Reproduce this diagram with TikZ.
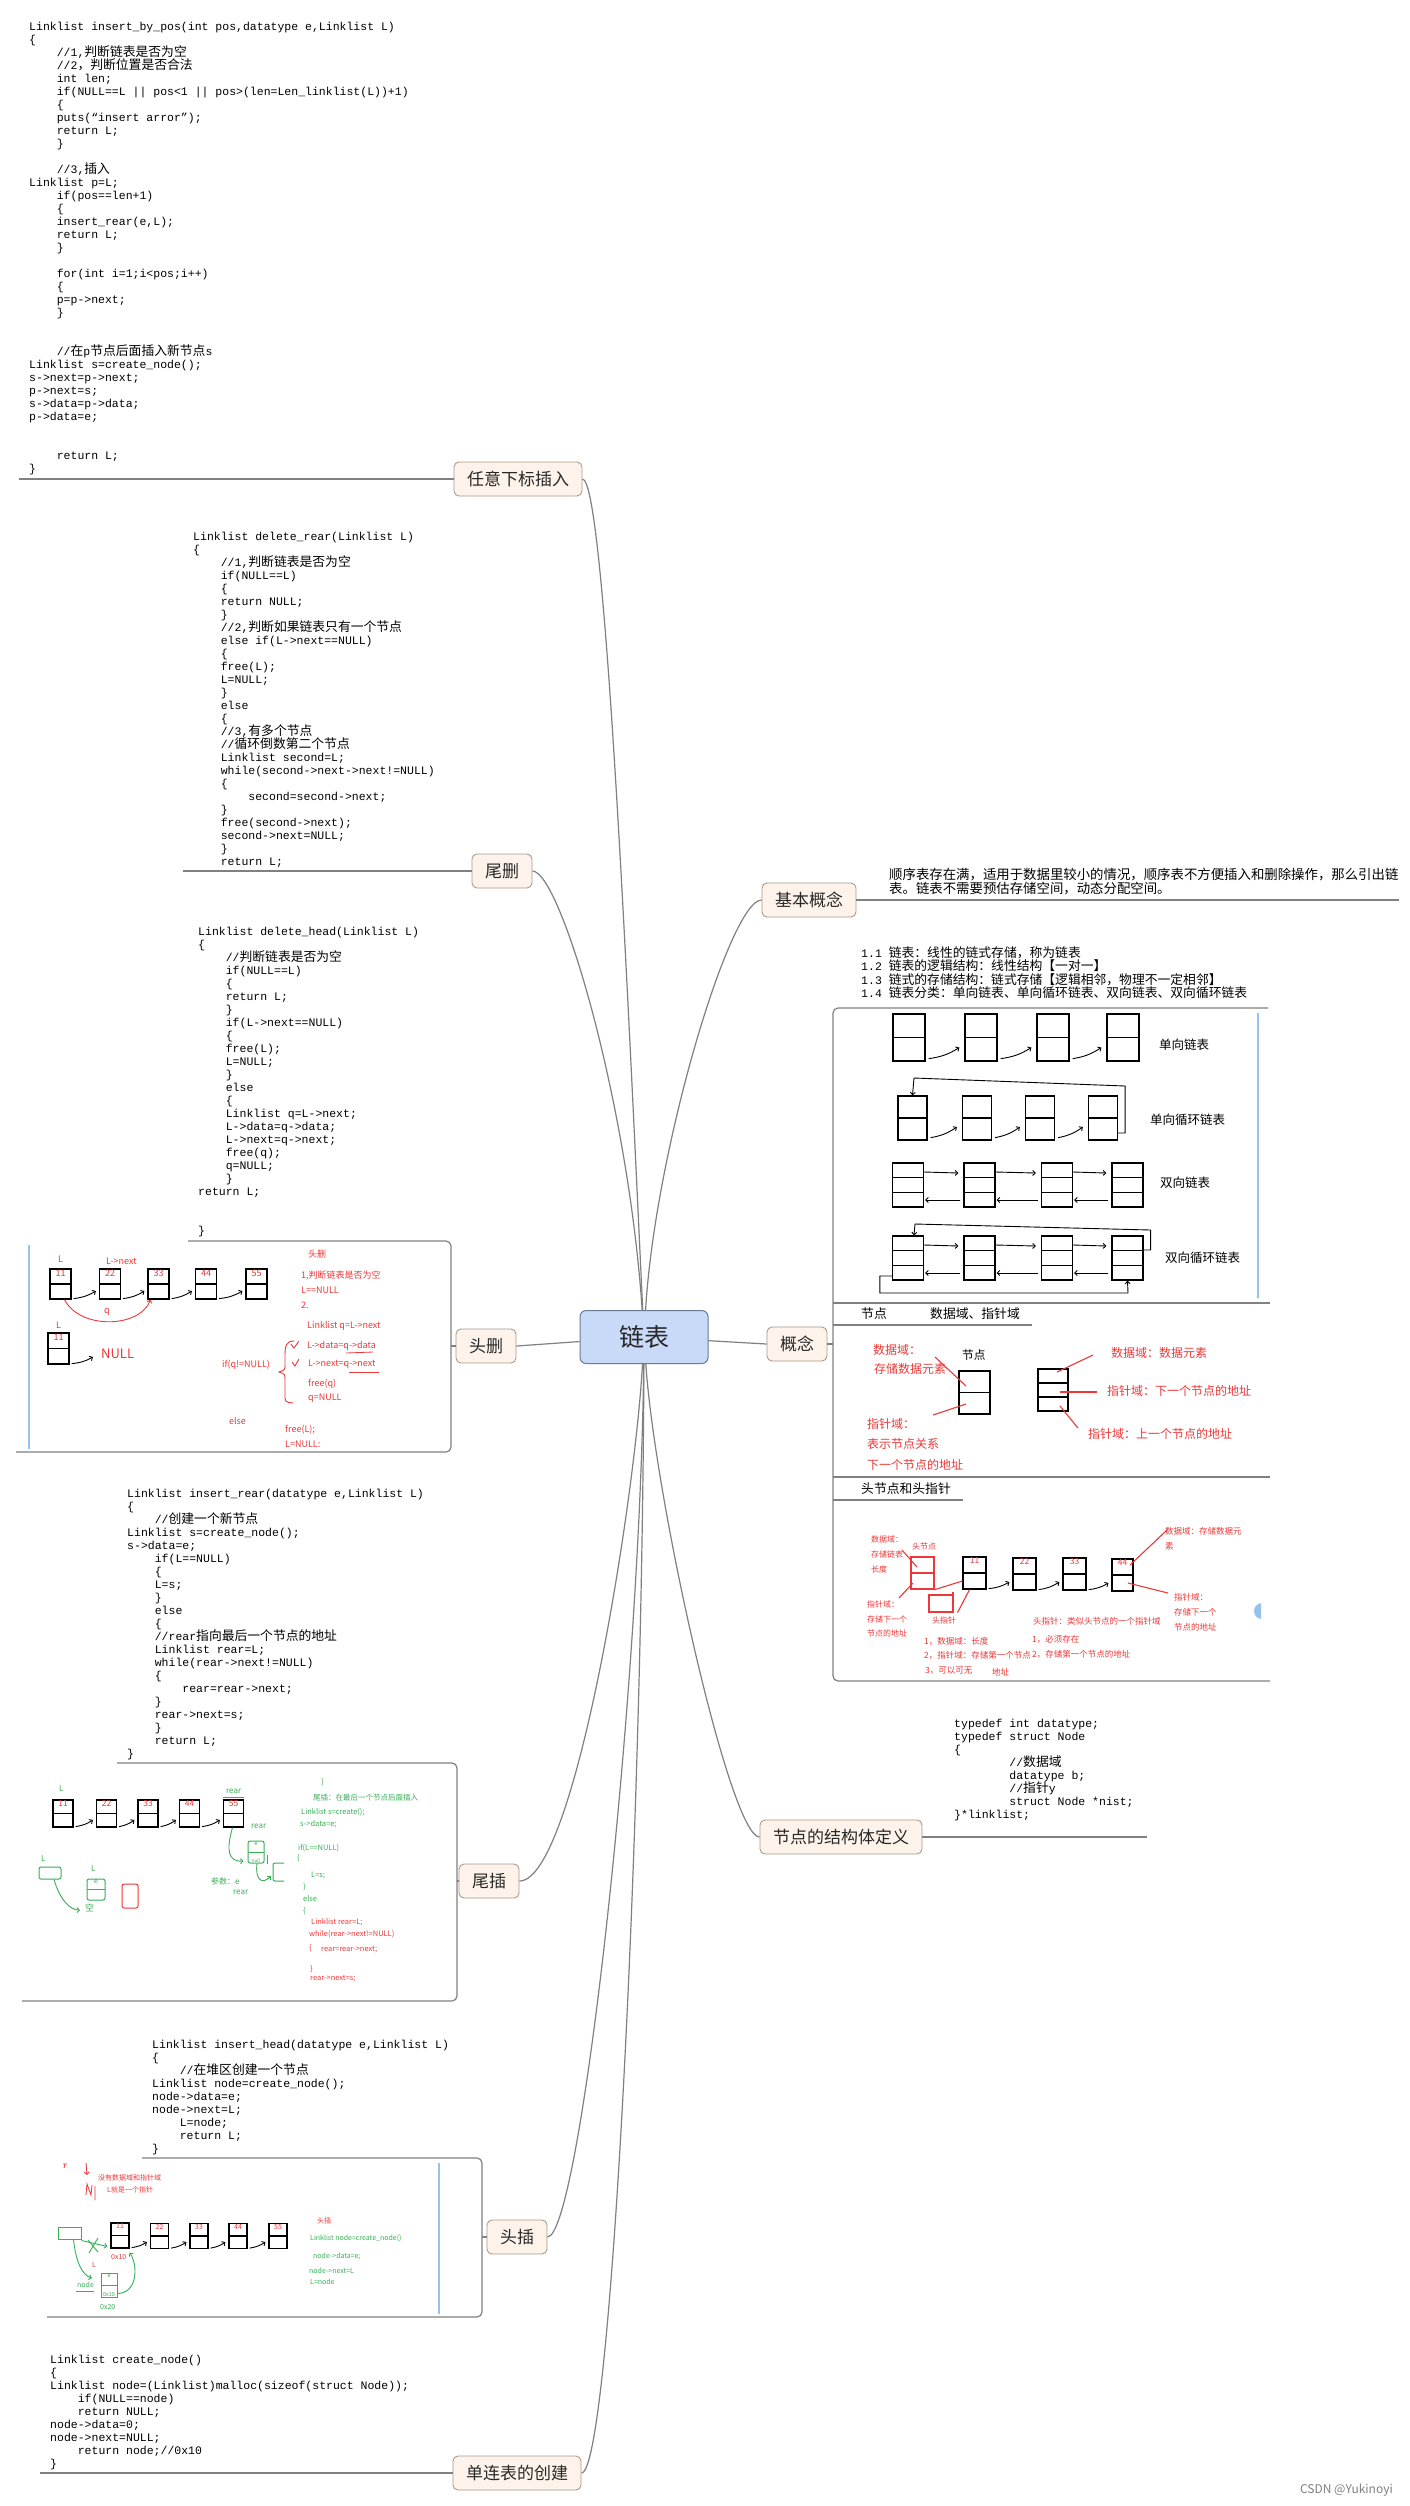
\documentclass[tikz,border=0pt]{standalone}
\usepackage{fontspec}
\newfontfamily\codefont{Liberation Mono}
\newfontfamily\zhfont{Noto Sans CJK SC}
\usetikzlibrary{arrows.meta,calc}
\definecolor{hred}{RGB}{236,56,56}
\definecolor{hgreen}{RGB}{56,176,86}
\definecolor{mline}{RGB}{128,128,128}
\definecolor{tfill}{RGB}{253,243,234}
\definecolor{tdraw}{RGB}{168,154,140}
\definecolor{cfill}{RGB}{200,218,248}
\definecolor{cdraw}{RGB}{105,122,150}
\definecolor{lblue}{RGB}{150,195,235}
\definecolor{txt}{RGB}{40,40,40}
\newcommand\zh[1]{{\zhfont\fontsize{12.8pt}{13pt}\selectfont #1}}
\newcommand\IN{\hspace*{27.6pt}}
\newcommand\fstrut{\rule{0pt}{12pt}}
\newcounter{nn}
\newcommand\TX[3]{\stepcounter{nn}\node[#1] (n\arabic{nn}) at (#2) {#3};}
\tikzset{
 code/.style={font={\codefont\fontsize{11.5pt}{13pt}\selectfont\lineskiplimit=-100pt\lineskip=0pt}, align=left, inner sep=0pt, anchor=north west, text=black},
 mm/.style={draw=mline, line width=1.2pt},
 topic/.style={draw=tdraw, fill=tfill, rounded corners=5pt, line width=0.9pt, minimum height=34pt, inner xsep=13pt, inner ysep=0pt, text=txt, font={\zhfont\fontsize{17pt}{17pt}\selectfont}},
 central/.style={draw=cdraw, fill=cfill, rounded corners=6pt, line width=1pt, minimum width=128pt, minimum height=53pt, inner sep=0pt, text=txt, font={\zhfont\fontsize{25pt}{25pt}\selectfont}},
 rtxt/.style={text=hred, inner sep=0pt, anchor=west, font={\zhfont\fontsize{#1}{#1}\selectfont}},
 gtxt/.style={text=hgreen, inner sep=0pt, anchor=west, font={\zhfont\fontsize{#1}{#1}\selectfont}},
 btxt/.style={text=black, inner sep=0pt, anchor=west, font={\zhfont\fontsize{#1}{#1}\selectfont}},
 harr/.style={draw=black, line width=0.9pt, -{Straight Barb[length=2.5pt,width=5pt]}},
 rarr/.style={draw=hred, line width=0.9pt, -{Straight Barb[length=2.5pt,width=5pt]}},
 garr/.style={draw=hgreen, line width=0.9pt, -{Straight Barb[length=2.5pt,width=5pt]}},
 rline/.style={draw=hred, line width=1.1pt},
 cell2/.style n args={3}{draw, line width=#3, inner sep=0pt, minimum width=#1, minimum height=#2, path picture={\draw[line width=#3] (path picture bounding box.west) -- (path picture bounding box.east);}},
 cell3/.style n args={3}{draw, line width=#3, inner sep=0pt, minimum width=#1, minimum height=#2, path picture={\draw[line width=#3] ($(path picture bounding box.north west)!0.333!(path picture bounding box.south west)$) -- ($(path picture bounding box.north east)!0.333!(path picture bounding box.south east)$) ($(path picture bounding box.north west)!0.667!(path picture bounding box.south west)$) -- ($(path picture bounding box.north east)!0.667!(path picture bounding box.south east)$);}},
 num/.style={anchor=north, text=hred, inner sep=1pt, font={\zhfont\fontsize{#1}{#1}\selectfont}},
 gnum/.style={anchor=north, text=hgreen, inner sep=1pt, font={\zhfont\fontsize{#1}{#1}\selectfont}},
 gbox/.style={draw=hgreen, line width=1pt, rounded corners=2pt, inner sep=0pt},
}
\begin{document}
\begin{tikzpicture}[x=1pt,y=-1pt]
\useasboundingbox (0,0) rectangle (1409,2506);
\fill[white] (0,0) rectangle (1409,2506);

% ---------------- central and topics ----------------
\node[central] (c) at (644,1337) {链表};
\node[topic] (t1) at (518,479) {任意下标插入};
\node[topic] (t2) at (502,871) {尾删};
\node[topic] (t3) at (486,1346) {头删};
\node[topic] (t4) at (489,1881) {尾插};
\node[topic] (t5) at (517,2237) {头插};
\node[topic] (t6) at (517,2473) {单连表的创建};
\node[topic] (t7) at (809,900) {基本概念};
\node[topic] (t8) at (797,1344) {概念};
\node[topic] (t9) at (841,1837) {节点的结构体定义};

\draw[mm] (t1.east) .. controls (605,479) and (628,1000) .. (c);
\draw[mm] (t2.east) .. controls (560,871) and (628,1100) .. (c);
\draw[mm] (t3.east) -- (c);
\draw[mm] (t4.east) .. controls (575,1881) and (635,1500) .. (c);
\draw[mm] (t5.east) .. controls (580,2237) and (640,1700) .. (c);
\draw[mm] (t6.east) .. controls (610,2473) and (642,1850) .. (c);
\draw[mm] (t7.west) .. controls (730,900) and (655,1150) .. (c);
\draw[mm] (t8.west) -- (c);
\draw[mm] (t9.west) .. controls (730,1837) and (655,1500) .. (c);

% underlines and frames
\coordinate (u1) at (19,479);
\draw[mm] (u1) -- (t1.west);
\coordinate (u2) at (183,871);
\draw[mm] (u2) -- (t2.west);
\draw[mm, rounded corners=5pt] (188,1241) -- (451,1241) -- (451,1452) -- (16,1452);
\coordinate (f3) at (451,1346);
\draw[mm] (f3) -- (t3.west);
\draw[draw=lblue, line width=1.2pt] (29,1245) -- (29,1449);
\draw[mm, rounded corners=5pt] (117,1763) -- (457,1763) -- (457,2001) -- (22,2001);
\coordinate (f4) at (457,1881);
\draw[mm] (f4) -- (t4.west);
\draw[mm, rounded corners=5pt] (142,2158) -- (482,2158) -- (482,2317) -- (47,2317);
\coordinate (f5) at (482,2237);
\draw[mm] (f5) -- (t5.west);
\draw[draw=lblue, line width=1.2pt] (439,2163) -- (439,2314);
\coordinate (u6) at (40,2473);
\draw[mm] (u6) -- (t6.west);
\coordinate (u7) at (1399,900);
\draw[mm] (t7.east) -- (u7);
\draw[mm, rounded corners=5pt] (1268,1008) -- (833,1008) -- (833,1681) -- (1270,1681);
\draw[mm] (833,1303) -- (1270,1303);
\draw[mm] (833,1477) -- (1270,1477);
\draw[mm] (833,1325) -- (1032,1325);
\draw[mm] (833,1500) -- (963,1500);
\coordinate (f8) at (833,1344);
\draw[mm] (t8.east) -- (f8);
\draw[draw=lblue, line width=1.2pt] (1258,1013) -- (1258,1297);
\fill[lblue] (1258,1297) circle (1.5);
\coordinate (u9) at (1147,1837);
\draw[mm] (t9.east) -- (u9);

% ---------------- code blocks ----------------
\node[code] (k1) at (29,18) {\fstrut Linklist insert\_by\_pos(int pos,datatype e,Linklist L)\\
\{\\
\IN//1,\zh{判断链表是否为空}\\
\IN//2\zh{，判断位置是否合法}\\
\IN int len;\\
\IN if(NULL==L || pos<1 || pos>(len=Len\_linklist(L))+1)\\
\IN\{\\
\IN puts(“insert arror”);\\
\IN return L;\\
\IN\}\\[13pt]
\IN//3,\zh{插入}\\
Linklist p=L;\\
\IN if(pos==len+1)\\
\IN\{\\
\IN insert\_rear(e,L);\\
\IN return L;\\
\IN\}\\[13pt]
\IN for(int i=1;i<pos;i++)\\
\IN\{\\
\IN p=p->next;\\
\IN\}\\[26pt]
\IN//\zh{在}p\zh{节点后面插入新节点}s\\
Linklist s=create\_node();\\
s->next=p->next;\\
p->next=s;\\
s->data=p->data;\\
p->data=e;\\[26pt]
\IN return L;\\
\}};

\node[code] (k2) at (193,528) {\fstrut Linklist delete\_rear(Linklist L)\\
\{\\
\IN//1,\zh{判断链表是否为空}\\
\IN if(NULL==L)\\
\IN\{\\
\IN return NULL;\\
\IN\}\\
\IN//2,\zh{判断如果链表只有一个节点}\\
\IN else if(L->next==NULL)\\
\IN\{\\
\IN free(L);\\
\IN L=NULL;\\
\IN\}\\
\IN else\\
\IN\{\\
\IN//3,\zh{有多个节点}\\
\IN//\zh{循环倒数第二个节点}\\
\IN Linklist second=L;\\
\IN while(second->next->next!=NULL)\\
\IN\{\\
\IN\IN second=second->next;\\
\IN\}\\
\IN free(second->next);\\
\IN second->next=NULL;\\
\IN\}\\
\IN return L;};

\node[code] (k3) at (198,923) {\fstrut Linklist delete\_head(Linklist L)\\
\{\\
\IN//\zh{判断链表是否为空}\\
\IN if(NULL==L)\\
\IN\{\\
\IN return L;\\
\IN\}\\
\IN if(L->next==NULL)\\
\IN\{\\
\IN free(L);\\
\IN L=NULL;\\
\IN\}\\
\IN else\\
\IN\{\\
\IN Linklist q=L->next;\\
\IN L->data=q->data;\\
\IN L->next=q->next;\\
\IN free(q);\\
\IN q=NULL;\\
\IN\}\\
return L;\\[26pt]
\}};

\node[code] (k4) at (127,1485) {\fstrut Linklist insert\_rear(datatype e,Linklist L)\\
\{\\
\IN//\zh{创建一个新节点}\\
Linklist s=create\_node();\\
s->data=e;\\
\IN if(L==NULL)\\
\IN\{\\
\IN L=s;\\
\IN\}\\
\IN else\\
\IN\{\\
\IN//rear\zh{指向最后一个节点的地址}\\
\IN Linklist rear=L;\\
\IN while(rear->next!=NULL)\\
\IN\{\\
\IN\IN rear=rear->next;\\
\IN\}\\
\IN rear->next=s;\\
\IN\}\\
\IN return L;\\
\}};

\node[code] (k5) at (152,2036) {\fstrut Linklist insert\_head(datatype e,Linklist L)\\
\{\\
\IN//\zh{在堆区创建一个节点}\\
Linklist node=create\_node();\\
node->data=e;\\
node->next=L;\\
\IN L=node;\\
\IN return L;\\
\}};

\node[code] (k6) at (50,2351) {\fstrut Linklist create\_node()\\
\{\\
Linklist node=(Linklist)malloc(sizeof(struct Node));\\
\IN if(NULL==node)\\
\IN return NULL;\\
node->data=0;\\
node->next=NULL;\\
\IN return node;//0x10\\
\}};

\node[code] (k7) at (954,1715) {\fstrut typedef int datatype;\\
typedef struct Node\\
\{\\
\IN\IN//\zh{数据域}\\
\IN\IN datatype b;\\
\IN\IN//\zh{指针}y\\
\IN\IN struct Node *nist;\\
\}*linklist;};

\node[code, font={\zhfont\fontsize{13.4pt}{14pt}\selectfont\lineskiplimit=-100pt\lineskip=0pt}] (k8) at (889,867) {\fstrut 顺序表存在满，适用于数据里较小的情况，顺序表不方便插入和删除操作，那么引出链\\表。链表不需要预估存储空间，动态分配空间。};

\node[code, font={\codefont\fontsize{11.5pt}{13.5pt}\selectfont\lineskiplimit=-100pt\lineskip=0pt}] (k9) at (861,945) {\fstrut 1.1 \zh{链表：线性的链式存储，称为链表}\\
1.2 \zh{链表的逻辑结构：线性结构【一对一】}\\
1.3 \zh{链式的存储结构：链式存储【逻辑相邻，物理不一定相邻】}\\
1.4 \zh{链表分类：单向链表、单向循环链表、双向链表、双向循环链表}};

% ---------------- head delete picture ----------------
\node[cell2={21pt}{30pt}{1.2pt}, label={[num=9]north:11}] (b1) at (60.5,1284) {};
\node[cell2={21pt}{30pt}{1.2pt}, label={[num=9]north:22}] (b2) at (110,1284) {};
\node[cell2={21pt}{30pt}{1.2pt}, label={[num=9]north:33}] (b3) at (158.5,1284) {};
\node[cell2={21pt}{30pt}{1.2pt}, label={[num=9]north:44}] (b4) at (206,1284) {};
\node[cell2={21pt}{30pt}{1.2pt}, label={[num=9]north:55}] (b5) at (256.5,1284) {};
\node[cell2={21pt}{31pt}{1.2pt}, label={[num=9]north:11}] (b6) at (58.5,1348.5) {};
\foreach \a/\b in {b1/b2,b2/b3,b3/b4,b4/b5}
  \draw[harr] ([xshift=2pt,yshift=1pt]\a.south east) to[bend right=12] ([xshift=-3pt,yshift=-7pt]\b.west);
\TX{rtxt=9}{58,1259}{L}
\TX{rtxt=9}{106,1261}{L->next}
\TX{rtxt=9}{104,1312}{q}
\TX{rtxt=9}{56,1325}{L}
\draw[rarr] ([xshift=4pt]b1.south) .. controls (80,1330) and (140,1328) .. ([xshift=-8pt]b3.south);
\coordinate (nl) at (93,1357);
\draw[harr] ([xshift=2pt,yshift=1pt]b6.south east) to[bend right=12] (nl);
\TX{rtxt=13}{101,1354}{NULL}
\TX{rtxt=9}{308,1254}{头删}
\TX{rtxt=9}{301,1276}{1,判断链表是否为空}
\TX{rtxt=9}{301,1290}{L==NULL}
\TX{rtxt=9}{301,1305}{2.}
\TX{rtxt=9}{307,1326}{Linklist q=L->next}
\TX{rtxt=9}{307,1346}{L->data=q->data}
\TX{rtxt=9}{308,1364}{L->next=q->next}
\TX{rtxt=9}{308,1384}{free(q)}
\TX{rtxt=9}{308,1398}{q=NULL}
\TX{rtxt=9}{222,1365}{if(q!=NULL)}
\TX{rtxt=9}{229,1421}{else}
\TX{rtxt=9}{285,1430}{free(L);}
\TX{rtxt=9}{285,1444}{L=NULL:}
\draw[hred, line width=0.9pt] (291,1344) -- (294,1348) -- (299,1341);
\draw[hred, line width=0.9pt] (292,1362) -- (295,1366) -- (299,1359);
\draw[hred, line width=0.8pt] (346,1353) -- (373,1352);
\draw[hred, line width=0.8pt] (349,1372) -- (379,1372);
\draw[hred, line width=0.9pt] (294,1341) .. controls (286,1341) and (285,1346) .. (285,1356) -- (285,1365) .. controls (285,1370) .. (279,1372) .. controls (285,1374) .. (285,1380) -- (285,1395) .. controls (285,1402) .. (293,1403);

% ---------------- tail insert picture ----------------
\node[cell2={20pt}{27pt}{1.2pt}, label={[num=8.5]north:11}] (c1) at (63,1813.5) {};
\node[cell2={20pt}{27pt}{1.2pt}, label={[num=8.5]north:22}] (c2) at (106.5,1813.5) {};
\node[cell2={20pt}{27pt}{1.2pt}, label={[num=8.5]north:33}] (c3) at (148,1813.5) {};
\node[cell2={20pt}{27pt}{1.2pt}, label={[num=8.5]north:44}] (c4) at (189.5,1813.5) {};
\node[cell2={20pt}{27pt}{1.2pt}, label={[num=8.5]north:55}] (c5) at (233.5,1813.5) {};
\foreach \a/\b in {c1/c2,c2/c3,c3/c4,c4/c5}
  \draw[harr] ([xshift=2pt,yshift=1pt]\a.south east) to[bend right=12] ([xshift=-3pt,yshift=-6.5pt]\b.west);
\TX{gtxt=8}{59,1789}{L}
\TX{gtxt=8}{226,1791}{rear}
\draw[hgreen, line width=0.8pt] (223,1797) -- (244,1797);
\TX{gtxt=8}{251,1826}{rear}
\node[cell2={16pt}{22pt}{1pt}, color=hgreen, rounded corners=2pt, label={[gnum=6]north:e}, label={[gnum=4.5, anchor=south]south:null}] (g1) at (256,1852) {};
\draw[hgreen, line width=0.9pt] (267,1855) -- (267,1864);
\draw[garr] ([xshift=-1pt]c5.south) .. controls (226,1850) and (228,1862) .. ([xshift=-4pt,yshift=-9pt]g1.west);
\draw[hgreen, line width=1pt, rounded corners=2pt] (284,1863) -- (273,1863) -- (273,1881) -- (284,1881);
\coordinate (g2p) at (271,1876);
\draw[garr] ([xshift=1pt]g1.south) .. controls (255,1880) and (262,1885) .. (g2p);
\TX{gtxt=8}{211,1881}{参数：e}
\TX{gtxt=8}{233,1892}{rear}
\TX{gtxt=8}{41,1859}{L}
\node[gbox, minimum width=22pt, minimum height=12pt] (g3) at (50,1873) {};
\coordinate (g3e) at (80,1910);
\draw[garr] ([xshift=4pt]g3.south) .. controls (60,1900) and (70,1910) .. (g3e);
\TX{gtxt=9}{85,1908}{空}
\TX{gtxt=8}{91,1869}{L}
\node[cell2={18pt}{21pt}{1pt}, color=hgreen, rounded corners=2pt, label={[gnum=7]north:e}] (g4) at (96,1889.5) {};
\node[draw=hred, line width=1pt, rounded corners=2pt, minimum width=16pt, minimum height=24pt, inner sep=0pt] (r1) at (130,1896) {};
\TX{gtxt=7.5}{321,1782}{\}}
\TX{gtxt=7.5}{313,1798}{尾插：在最后一个节点后面插入}
\TX{gtxt=7.5}{301,1812}{Linklist s=create();}
\TX{gtxt=7.5}{300,1824}{s->data=e;}
\TX{gtxt=7.5}{298,1848}{if(L==NULL)}
\TX{gtxt=7.5}{297,1858}{\{}
\TX{gtxt=7.5}{311,1875}{L=s;}
\TX{gtxt=7.5}{303,1887}{\}}
\TX{gtxt=7.5}{303,1899}{else}
\TX{gtxt=7.5}{303,1911}{\{}
\TX{rtxt=7.5}{311,1922}{Linklist rear=L;}
\TX{rtxt=7.5}{309,1934}{while(rear->next!=NULL)}
\TX{rtxt=7.5}{309,1948}{\{}
\TX{rtxt=7.5}{321,1950}{rear=rear->next;}
\TX{rtxt=7.5}{310,1969}{\}}
\TX{rtxt=7.5}{310,1979}{rear->next=s;}

% ---------------- head insert picture ----------------
\node[cell2={18pt}{25pt}{1.2pt}, label={[num=7]north:11}] (d1) at (120,2235.5) {};
\node[cell2={18pt}{25pt}{1.2pt}, label={[num=7]north:22}] (d2) at (159.5,2236) {};
\node[cell2={18pt}{25pt}{1.2pt}, label={[num=7]north:33}] (d3) at (199,2236) {};
\node[cell2={18pt}{25pt}{1.2pt}, label={[num=7]north:44}] (d4) at (238,2236) {};
\node[cell2={18pt}{25pt}{1.2pt}, label={[num=7]north:55}] (d5) at (278,2236) {};
\foreach \a/\b in {d1/d2,d2/d3,d3/d4,d4/d5}
  \draw[harr] ([xshift=2pt,yshift=1pt]\a.south east) to[bend right=12] ([xshift=-3pt,yshift=-6pt]\b.west);
\node[draw=hgreen, line width=1pt, minimum width=23pt, minimum height=12pt, inner sep=0pt] (h0) at (69.5,2233) {};
\draw[garr] ([yshift=-1pt]h0.south east) -- ([xshift=-3pt,yshift=-11pt]d1.west);
\draw[hgreen, line width=0.9pt] (88,2240) -- (98,2252) (98,2238) -- (89,2253);
\TX{rtxt=7}{92,2265}{L}
\coordinate (h0e) at (92,2278);
\draw[garr] ([xshift=4pt]h0.south) .. controls (76,2262) and (82,2275) .. (h0e);
\TX{gtxt=7}{77,2285}{node}
\draw[hgreen, line width=0.7pt] (76,2291) -- (94,2291);
\node[cell2={16pt}{24pt}{1pt}, color=hgreen, label={[gnum=6]north:e}, label={[gnum=5.5, anchor=south]south:0x10}] (gn) at (109,2285) {};
\TX{rtxt=7}{111,2257}{0x10}
\draw[garr] ([yshift=4pt]gn.south east) .. controls (138,2293) and (138,2265) .. ([yshift=-4pt]d1.south east);
\TX{gtxt=7}{100,2307}{0x20}
\TX{rtxt=7}{98,2178}{没有数据域和指针域}
\TX{rtxt=7}{107,2190}{L就是一个指针}
\draw[rarr] (86,2163) -- (87,2175);
\draw[hred, line width=0.8pt] (86,2195) -- (87,2184) -- (91,2195) -- (92,2185) (95,2186) -- (95,2200);
\draw[hred, line width=0.8pt] (63,2164) -- (67,2164) (65,2164) -- (64,2168);
\TX{rtxt=7}{317,2221}{头插}
\TX{gtxt=7}{310,2238}{Linklist node=create\_node()}
\TX{gtxt=7}{313,2256}{node->data=e;}
\TX{gtxt=7}{309,2271}{node->next=L}
\TX{gtxt=7}{310,2282}{L=node}

% ---------------- concept: list types ----------------
\node[cell2={32pt}{47pt}{1.3pt}] (p1) at (909,1037.5) {};
\node[cell2={32pt}{47pt}{1.3pt}] (p2) at (981,1037.5) {};
\node[cell2={32pt}{47pt}{1.3pt}] (p3) at (1053,1037.5) {};
\node[cell2={32pt}{47pt}{1.3pt}] (p4) at (1123,1037.5) {};
\foreach \a/\b in {p1/p2,p2/p3,p3/p4}
  \draw[harr] ([xshift=3pt,yshift=3pt]\a.south east) to[bend right=12] ([xshift=-5pt,yshift=-10pt]\b.west);
\TX{btxt=12.5}{1159,1045}{单向链表}

\node[cell2={29pt}{44pt}{1.3pt}] (q1) at (912.5,1118) {};
\node[cell2={29pt}{44pt}{1.3pt}] (q2) at (977,1118) {};
\node[cell2={29pt}{44pt}{1.3pt}] (q3) at (1040,1118) {};
\node[cell2={29pt}{44pt}{1.3pt}] (q4) at (1103,1118) {};
\foreach \a/\b in {q1/q2,q2/q3,q3/q4}
  \draw[harr] ([xshift=3pt,yshift=3pt]\a.south east) to[bend right=12] ([xshift=-5pt,yshift=-9pt]\b.west);
\draw[harr] ([yshift=-15pt]q4.east) -- ++(7,0) -- ++(0,-47) -- (914,1078) -- (q1.north);
\TX{btxt=12.5}{1150,1120}{单向循环链表}

\node[cell3={31pt}{44pt}{1.3pt}] (s1) at (908,1185) {};
\node[cell3={31pt}{44pt}{1.3pt}] (s2) at (979.5,1185) {};
\node[cell3={31pt}{44pt}{1.3pt}] (s3) at (1057,1185) {};
\node[cell3={31pt}{44pt}{1.3pt}] (s4) at (1127.5,1185) {};
\foreach \a/\b in {s1/s2,s2/s3,s3/s4} {
  \draw[harr] ([yshift=13pt]\a.east) -- ([xshift=-5pt,yshift=12pt]\b.west);
  \draw[harr] ([xshift=-3pt,yshift=-15pt]\b.west) -- ([xshift=1pt,yshift=-15pt]\a.east);
}
\TX{btxt=12.5}{1160,1183}{双向链表}

\node[cell3={31pt}{44pt}{1.3pt}] (w1) at (908,1258) {};
\node[cell3={31pt}{44pt}{1.3pt}] (w2) at (979.5,1258) {};
\node[cell3={31pt}{44pt}{1.3pt}] (w3) at (1057,1258) {};
\node[cell3={31pt}{44pt}{1.3pt}] (w4) at (1127.5,1258) {};
\foreach \a/\b in {w1/w2,w2/w3,w3/w4} {
  \draw[harr] ([yshift=13pt]\a.east) -- ([xshift=-5pt,yshift=12pt]\b.west);
  \draw[harr] ([xshift=-3pt,yshift=-15pt]\b.west) -- ([xshift=1pt,yshift=-15pt]\a.east);
}
\draw[harr] ([yshift=8pt]w4.east) -- ++(7,0) -- ++(0,-20) -- (915,1224) -- ([xshift=6pt]w1.north);
\draw[harr] ([yshift=-18pt]w1.west) -- ++(-12,0) -- ++(0,17) -- (1128,1293) -- (w4.south);
\TX{btxt=12.5}{1165,1258}{双向循环链表}

% ---------------- concept: node ----------------
\TX{btxt=12.8}{861,1314}{节点}
\TX{btxt=12.8}{930,1314}{数据域、指针域}
\TX{rtxt=12}{873,1350}{数据域：}
\TX{rtxt=12}{874,1369}{存储数据元素}
\TX{btxt=11.7}{962,1355}{节点}
\node[cell2={31pt}{43pt}{1.3pt}] (nd1) at (974.5,1392.5) {};
\draw[rline] (935,1357) -- (966,1386);
\draw[rline] (933,1415) -- (966,1404);
\TX{rtxt=12}{867,1424}{指针域：}
\TX{rtxt=12}{867,1444}{表示节点关系}
\TX{rtxt=12}{867,1465}{下一个节点的地址}
\node[cell3={30pt}{42pt}{1.3pt}] (nd2) at (1053,1390) {};
\draw[rline] (1093,1355) -- (1057,1372);
\draw[rline] (1097,1392) -- (1060,1392);
\draw[rline] (1078,1428) -- (1060,1406);
\TX{rtxt=12}{1111,1353}{数据域：数据元素}
\TX{rtxt=12}{1107,1391}{指针域：下一个节点的地址}
\TX{rtxt=12}{1088,1434}{指针域：上一个节点的地址}

% ---------------- concept: head node / head pointer ----------------
\TX{btxt=12.8}{861,1489}{头节点和头指针}
\TX{rtxt=8}{871,1539}{数据域：}
\TX{rtxt=8}{871,1554}{存储链表}
\TX{rtxt=8}{871,1569}{长度}
\TX{rtxt=8}{912,1546}{头节点}
\node[cell2={23pt}{32pt}{1.2pt}, color=hred] (hn) at (922.5,1573) {};
\draw[rline] (902,1550) -- (917,1567);
\draw[rline] (899,1598) -- (913,1583);
\TX{rtxt=8}{867,1604}{指针域：}
\TX{rtxt=8}{867,1619}{存储下一个}
\TX{rtxt=8}{867,1633}{节点的地址}
\node[cell2={23pt}{32pt}{1.2pt}, label={[num=8.5]north:11}] (m1) at (974.5,1573) {};
\node[cell2={23pt}{32pt}{1.2pt}, label={[num=8.5]north:22}] (m2) at (1024.5,1574) {};
\node[cell2={23pt}{32pt}{1.2pt}, label={[num=8.5]north:33}] (m3) at (1074.5,1574) {};
\node[cell2={21pt}{32pt}{1.2pt}, label={[num=8.5]north:44}] (m4) at (1122.5,1575) {};
\foreach \a/\b in {m1/m2,m2/m3,m3/m4}
  \draw[harr] ([xshift=2pt,yshift=1pt]\a.south east) to[bend right=12] ([xshift=-3pt,yshift=-8pt]\b.west);
\draw[rline] (hn.south east) -- ([yshift=-8pt]m1.west);
\node[draw=hred, line width=1.1pt, minimum width=24pt, minimum height=17pt, inner sep=0pt] (hp) at (941,1603.5) {};
\draw[rline] (953,1592) -- (953,1596);
\draw[rline] ([xshift=4pt]hp.south east) -- ([xshift=-5pt]m1.south);
\TX{rtxt=8}{932,1620}{头指针}
\TX{rtxt=8.5}{1165,1531}{数据域：存储数据元}
\TX{rtxt=8.5}{1165,1546}{素}
\draw[rline] (1167,1530) -- (1130,1565);
\draw[rline] (1128,1583) -- (1168,1593);
\TX{rtxt=8.5}{1174,1597}{指针域：}
\TX{rtxt=8.5}{1174,1612}{存储下一个}
\TX{rtxt=8.5}{1174,1627}{节点的地址}
\TX{rtxt=8.5}{924,1641}{1，数据域：长度}
\TX{rtxt=8.5}{924,1655}{2，指针域：存储第一个节点}
\TX{rtxt=8.5}{925,1671}{3，可以可无}
\TX{rtxt=8.5}{992,1672}{地址}
\TX{rtxt=8.5}{1033,1621}{头指针：类似头节点的一个指针域}
\TX{rtxt=8.5}{1032,1639}{1，必须存在}
\TX{rtxt=8.5}{1032,1654}{2，存储第一个节点的地址}
\begin{scope}
\clip (1245,1595) rectangle (1261,1628);
\fill[lblue] (1262,1611) circle (8);
\end{scope}

% watermark
\node[inner sep=0pt, anchor=east, text=gray, font={\zhfont\fontsize{12pt}{12pt}\selectfont}] (wm) at (1393,2490) {CSDN @Yukinoyi};
\end{tikzpicture}
\end{document}
